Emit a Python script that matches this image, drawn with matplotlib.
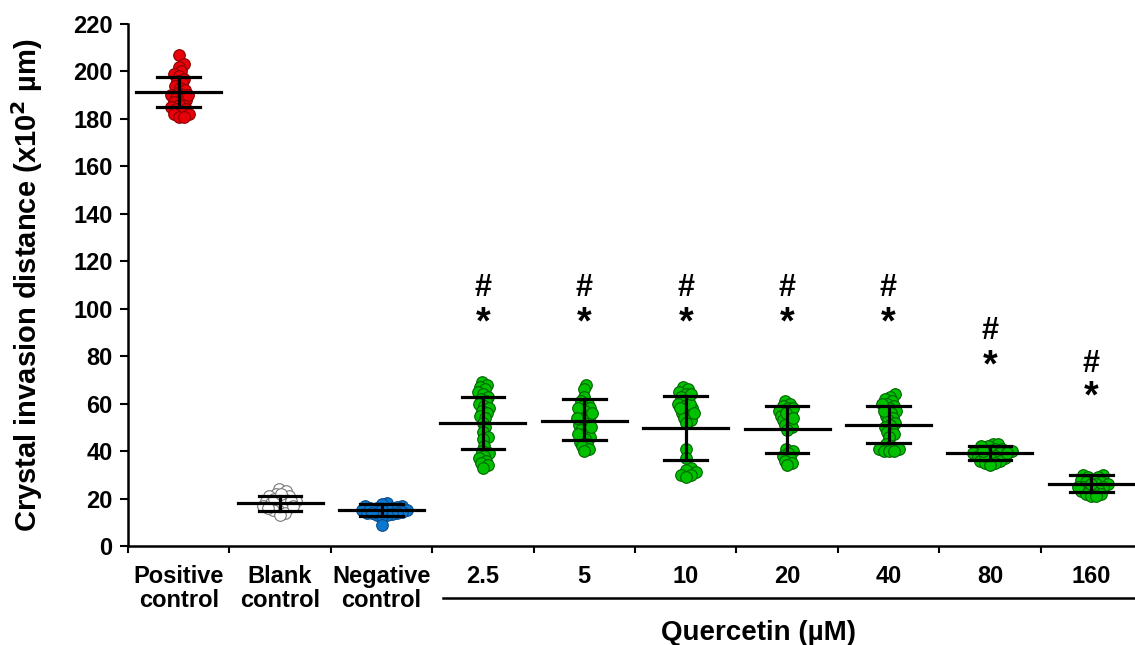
import numpy as np
import matplotlib
matplotlib.use("Agg")
import matplotlib.pyplot as plt

plt.rcParams['font.family'] = ['Liberation Sans', 'DejaVu Sans']
plt.rcParams['font.weight'] = 'bold'

categories = ["Positive\ncontrol", "Blank\ncontrol", "Negative\ncontrol",
              "2.5", "5", "10", "20", "40", "80", "160"]

pos_ctrl = [207, 203, 202, 200, 199, 198, 197, 196, 195, 194, 193, 192, 191, 190, 190,
            189, 188, 188, 187, 186, 186, 185, 184, 184, 183, 182, 182, 181, 181, 190]
blank_ctrl = [24, 23, 22, 21, 21, 20, 20, 19, 19, 18, 18, 18, 17, 17, 16, 16, 15, 15,
              14, 13, 19, 17, 20, 16, 22]
neg_ctrl = [18, 17.5, 17, 17, 16.5, 16, 16, 15.5, 15, 15, 14.5, 14, 14, 13.5, 13, 13,
            12.5, 9, 16, 15, 14]
q2_5 = [69, 68, 67, 66, 65, 64, 63, 62, 61, 60, 59, 58, 57, 56, 55, 54, 52, 50, 48, 46,
        45, 42, 40, 39, 38, 37, 36, 35, 34, 33]
q5 = [68, 66, 63, 61, 60, 59, 58, 57, 56, 55, 54, 53, 52, 51, 50, 49, 48, 47, 46, 45,
      44, 43, 42, 41, 40, 58, 56, 54, 50, 47]
q10 = [67, 66, 65, 64, 63, 62, 61, 60, 59, 58, 57, 56, 55, 54, 53, 52, 41, 37, 33, 32,
       31, 30, 30, 29, 60, 58, 64, 56]
q20 = [61, 60, 59, 58, 57, 56, 55, 54, 53, 52, 51, 50, 49, 41, 40, 39, 38, 37, 36, 35,
       34, 58, 56, 54]
q40 = [64, 63, 62, 61, 60, 59, 58, 57, 56, 55, 54, 53, 52, 51, 50, 49, 48, 47, 46, 43,
       42, 41, 41, 40, 40, 40, 60, 57]
q80 = [43, 43, 42, 42, 41, 41, 40, 40, 39, 39, 38, 38, 37, 37, 36, 36, 35, 35, 34, 39,
       38, 40]
q160 = [30, 30, 29, 29, 28, 28, 27, 27, 26, 26, 25, 25, 24, 24, 23, 23, 22, 22, 21, 21,
        26, 25]

groups = [pos_ctrl, blank_ctrl, neg_ctrl, q2_5, q5, q10, q20, q40, q80, q160]

means = [191.5, 18.1, 15.2, 51.8, 52.7, 49.7, 49.3, 51.0, 39.2, 26.1]
sd_upper = [197.6, 21.0, 17.7, 62.8, 61.9, 63.2, 59.0, 59.0, 42.1, 29.9]
sd_lower = [185.0, 14.7, 12.6, 40.9, 44.7, 36.2, 39.2, 43.4, 36.2, 22.8]

sig_star_y = [None, None, None, 98.6, 98.6, 98.6, 98.6, 98.6, 80.5, 67.4]
sig_hash_y = [None, None, None, 110, 110, 110, 110, 110, 91.9, 78.0]

face_colors = ["#e8000b", "#ffffff", "#0b78d0"] + ["#00c000"] * 7
edge_colors = ["#8a0000", "#777777", "#0a4a8a"] + ["#006400"] * 7

W, H = 1135, 645
fig = plt.figure(figsize=(W / 100, H / 100), dpi=100)
ax_left, ax_bottom, ax_top = 128, 546, 24
ax = fig.add_axes([ax_left / W, (H - ax_bottom) / H, (W - ax_left) / W,
                   (ax_bottom - ax_top) / H])
cat_px = 101.4
ax.set_xlim(-0.5, -0.5 + (W - ax_left) / cat_px)
ax.set_ylim(0, 220)
px_per_y = (ax_bottom - ax_top) / 220.0


def swarm_offsets(vals, diam_px=10.0, overlap=0.5):
    order = np.argsort(vals)
    placed = []
    offs = np.zeros(len(vals))
    dmin = diam_px * overlap
    step = 1.0
    for i in order:
        y = vals[i] * px_per_y
        k = 0
        while True:
            cands = [0.0] if k == 0 else [k * step, -k * step]
            ok_c = None
            for c in cands:
                if all((c - px) ** 2 + (y - py) ** 2 >= dmin ** 2 for px, py in placed):
                    ok_c = c
                    break
            if ok_c is not None:
                offs[i] = ok_c
                placed.append((ok_c, y))
                break
            k += 1
    return offs / cat_px


HASH_FS, STAR_FS = 22, 27
for i, vals in enumerate(groups):
    vals = np.asarray(vals, dtype=float)
    offs = swarm_offsets(vals)
    ax.scatter(i + offs, vals, s=70, facecolor=face_colors[i],
               edgecolor=edge_colors[i], linewidth=0.8, zorder=3)
    # mean line and SD
    ax.plot([i - 0.42, i + 0.42], [means[i]] * 2, color="black", lw=2.3, zorder=4)
    ax.plot([i - 0.21, i + 0.21], [sd_upper[i]] * 2, color="black", lw=2.3, zorder=4)
    ax.plot([i - 0.21, i + 0.21], [sd_lower[i]] * 2, color="black", lw=2.3, zorder=4)
    ax.plot([i, i], [sd_lower[i], sd_upper[i]], color="black", lw=2.3, zorder=4)
    if sig_star_y[i] is not None:
        ax.annotate("#", (i, sig_hash_y[i]), xytext=(0, -0.36 * HASH_FS),
                    textcoords="offset points", ha="center", va="baseline",
                    fontsize=HASH_FS, fontweight="bold")
        ax.annotate("*", (i, sig_star_y[i]), xytext=(0, -0.58 * STAR_FS),
                    textcoords="offset points", ha="center", va="baseline",
                    fontsize=STAR_FS, fontweight="bold")

for s in ["top", "right"]:
    ax.spines[s].set_visible(False)
for s in ["left", "bottom"]:
    ax.spines[s].set_linewidth(1.8)

ax.set_yticks(np.arange(0, 221, 20))
ax.set_xticks(np.arange(-0.5, 9.5, 1.0))
ax.set_xticklabels([])
ax.tick_params(axis="y", direction="out", length=6, width=1.5, labelsize=17, pad=5)
ax.tick_params(axis="x", direction="out", length=5, width=1.5)
for lab in ax.get_yticklabels():
    lab.set_fontweight("bold")

for i, c in enumerate(categories):
    ax.text(i, -0.036, c, transform=ax.get_xaxis_transform(), ha="center", va="top",
            fontsize=17, fontweight="bold", linespacing=1.05)

ax.set_ylabel("Crystal invasion distance (x10$^\\mathbf{2}$ µm)", fontsize=21,
              fontweight="bold", labelpad=20)

ax.plot([2.607, ax.get_xlim()[1]], [-0.0996, -0.0996], color="black", lw=1.8,
        transform=ax.get_xaxis_transform(), clip_on=False)
ax.text(5.72, -0.167, "Quercetin (µM)", transform=ax.get_xaxis_transform(),
        ha="center", va="center", fontsize=20, fontweight="bold")

fig.savefig("out.png", dpi=100)
